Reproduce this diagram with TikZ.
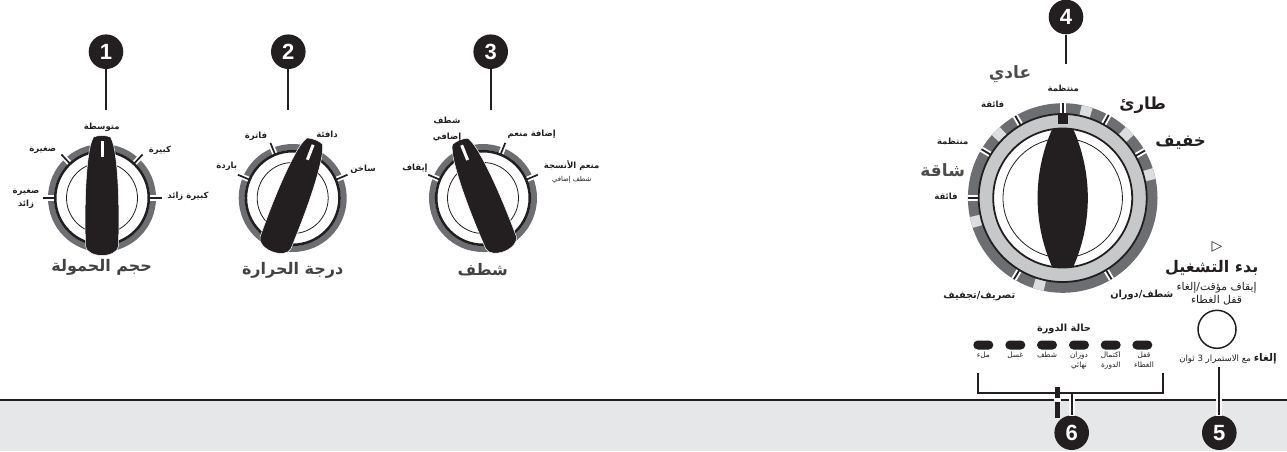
\documentclass[tikz,border=0pt]{standalone}
\usepackage{fontspec}
\setmainfont{Liberation Sans}
\newfontfamily\arabicfont[Script=Arabic]{DejaVu Sans}
\TeXXeTstate=1
\newcommand{\ar}[1]{\beginR #1\endR}
\definecolor{ringd}{HTML}{6D6E71}
\definecolor{ringl}{HTML}{C7C8CA}
\definecolor{segl}{HTML}{DCDDDE}
\definecolor{band}{HTML}{E6E7E8}
\definecolor{ink}{HTML}{231F20}
\usetikzlibrary{shapes.misc}
\tikzset{
  callout/.style={circle,fill=ink,text=white,inner sep=0pt,minimum size=34.6pt,font=\bfseries\fontsize{22}{22}\selectfont},
  lead/.style={draw=ink,line width=1.7pt},
  halo/.style={draw=white,line width=6pt},
  lab/.style={inner sep=0pt,align=center,text=ink,font=\arabicfont\bfseries\fontsize{8.5}{12.7}\selectfont},
  labw/.style={lab,font=\arabicfont\bfseries\fontsize{9.8}{12}\selectfont},
  tiny/.style={inner sep=0pt,align=center,text=ink,font=\arabicfont\fontsize{6.8}{10}\selectfont},
  led/.style={inner sep=0pt,align=center,text=ink,font=\arabicfont\fontsize{7.4}{10}\selectfont},
  note/.style={inner sep=0pt,align=center,text=ink,font=\arabicfont\fontsize{10.8}{13.4}\selectfont},
  title/.style={inner sep=0pt,text=ink!85,font=\arabicfont\bfseries\fontsize{16}{18}\selectfont},
  big/.style={inner sep=0pt,text=ink,font=\arabicfont\bfseries\fontsize{16.6}{18}\selectfont},
  bigg/.style={inner sep=0pt,text=ink!80,font=\arabicfont\bfseries\fontsize{17}{18}\selectfont},
  ledlamp/.style={rounded rectangle,fill=ink,inner sep=0pt,minimum width=20pt,minimum height=9pt},
}
% small dial: x, y, knob angle, tick angles
\newcommand{\smalldial}[4]{%
  \begin{scope}[shift={(#1,#2)}]
    \draw[ringd,line width=6pt] (0,0) circle[radius=51pt];
    \draw[ink,line width=2.6pt] (0,0) circle[radius=46.8pt];
    \draw[ink,line width=.8pt] (0,0) circle[radius=35.5pt];
    \foreach \a in {#4}{
      \begin{scope}[rotate=-\a]
        \fill[white] (-2.6,-48.2) rectangle (2.6,-54.6);
        \draw[ink,line width=1.7pt] (0,-47) -- (0,-59.5);
      \end{scope}}
    \begin{scope}[rotate=-#3]
      \fill[ink,draw=white,line width=.5pt] (-8.5,-61) .. controls (-11,-56) and (-12.5,-50) .. (-13.5,-42)
        .. controls (-16.5,-20) and (-17.5,10) .. (-16.5,48)
        .. controls (-16,54) and (-8,57.5) .. (0,57.5)
        .. controls (8,57.5) and (16,54) .. (16.5,48)
        .. controls (17.5,10) and (16.5,-20) .. (13.5,-42)
        .. controls (12.5,-50) and (11,-56) .. (8.5,-61)
        .. controls (4,-63) and (-4,-63) .. (-8.5,-61) -- cycle;
      \fill[white] (-1.5,-57) rectangle (1.5,-41);
    \end{scope}
  \end{scope}}
\begin{document}
\begin{tikzpicture}[x=1pt,y=-1pt]
\useasboundingbox (0,0) rectangle (1287,451);
% bottom band
\fill[band] (0,400) rectangle (1287,451);
\draw[ink,line width=2pt] (0,400) -- (1287,400);

% dials
\smalldial{102}{198}{0}{0,-43,43,-90,90}
\smalldial{292.7}{198}{21}{-67,-22,22,67}
\smalldial{483}{198}{-22}{-67,-22,22,67}

% big dial
\begin{scope}[shift={(1062.7,198)}]
  \draw[ringd,line width=11pt] (0,0) circle[radius=89.3pt];
  \foreach \a in {15,45,75,-45,-105,-165}{
    \pgfmathsetmacro{\ss}{90-\a+3.5}\pgfmathsetmacro{\ee}{90-\a-3.5}
    \draw[segl,line width=11pt] (\ss:89.3pt) arc[start angle=\ss,end angle=\ee,radius=89.3pt];}
  \foreach \a in {0,29,60,-30,-59,-90,-149,149}{
    \begin{scope}[rotate=-\a]
      \fill[white] (-2.8,-84) rectangle (2.8,-94.8);
      \draw[ink,line width=1.8pt] (0,-84) -- (0,-94.8);
    \end{scope}}
  \draw[ringl,line width=14pt] (0,0) circle[radius=76.5pt];
  \draw[ink,line width=1.8pt] (0,0) circle[radius=84pt];
  \draw[ink,line width=1.8pt] (0,0) circle[radius=69.5pt];
  \draw[ink,line width=.8pt] (0,0) circle[radius=59.7pt];
  \fill[ink] (-5,-85) rectangle (5,-74);
  \fill[ink] (-10.5,-69) .. controls (-30,-25) and (-30,25) .. (-10.5,69) -- (10.5,69)
     .. controls (30,25) and (30,-25) .. (10.5,-69) -- cycle;
\end{scope}

% callouts
\node[callout] (n1) at (106,51.7) {1};
\node[callout] (n2) at (288.3,51.7) {2};
\node[callout] (n3) at (490.7,51.7) {3};
\node[callout] (n4) at (1066,17) {4};
\node[callout] (n5) at (1219.3,432.7) {5};
\node[callout] (n6) at (1071.7,432.7) {6};
\coordinate (e1) at (106,110);
\coordinate (e2) at (288.3,110);
\coordinate (e3) at (490.7,110);
\coordinate (e4) at (1066,64);
\coordinate (e5) at (1219.3,367);
\coordinate (e6) at (1071.7,392.7);
\draw[lead] (n1) -- (e1);
\draw[lead] (n2) -- (e2);
\draw[lead] (n3) -- (e3);
\draw[lead] (n4) -- (e4);
\draw[halo] (1219.3,396) -- (1219.3,416);
\draw[halo] (1071.7,396) -- (1071.7,416);
\draw[lead] (n5) -- (e5);
\draw[lead] (n6) -- (e6);
% bracket
\coordinate (bl) at (978,373);
\coordinate (br) at (1162.7,373);
\draw[lead] (bl) |- (e6) -| (br);
\fill[white] (1054,396.5) rectangle (1060.5,402);
\fill[ink] (1054.7,386.7) rectangle (1059.9,398);
\fill[ink] (1054.7,402) rectangle (1059.9,418);

% labels dial 1
\node[lab] (a1) at (101.7,127.7) {\ar{متوسطة}};
\node[lab] (a2) at (42.7,150) {\ar{صغيرة}};
\node[lab] (a3) at (160,150) {\ar{كبيرة}};
\node[lab] (a4) at (26,198.5) {\ar{صغيرة}\\\ar{زائد}};
\node[lab] (a5) at (188,196.7) {\ar{كبيرة زائد}};
\node[title] (a6) at (101.7,267) {\ar{حجم الحمولة}};
% labels dial 2
\node[lab] (b1) at (327,134) {\ar{دافئة}};
\node[lab] (b2) at (256,136) {\ar{فاترة}};
\node[lab] (b3) at (226.7,166.7) {\ar{باردة}};
\node[lab] (b4) at (363,169) {\ar{ساخن}};
\node[title] (b5) at (292.7,270) {\ar{درجة الحرارة}};
% labels dial 3
\node[lab,font=\arabicfont\bfseries\fontsize{8.5}{16.5}\selectfont] (c1) at (447,129.5) {\ar{شطف}\\\ar{إضافي}};
\node[lab] (c2) at (531.7,134) {\ar{إضافة منعم}};
\node[lab] (c3) at (415,168) {\ar{إيقاف}};
\node[lab] (c4) at (571.7,165.7) {\ar{منعم الأنسجة}};
\node[tiny] (c5) at (571.7,180) {\ar{شطف إضافي}};
\node[title] (c6) at (482.7,270) {\ar{شطف}};
% labels dial 4
\node[bigg] (d1) at (1010,74) {\ar{عادي}};
\node[lab] (d2) at (1063.3,88.3) {\ar{منتظمة}};
\node[lab] (d3) at (992.7,104) {\ar{فائقة}};
\node[big] (d4) at (1142.7,105) {\ar{طارئ}};
\node[big] (d5) at (1180.7,142.7) {\ar{خفيف}};
\node[lab] (d6) at (952.7,141.7) {\ar{منتظمة}};
\node[bigg] (d7) at (942.7,170) {\ar{شاقة}};
\node[lab] (d8) at (946,196.7) {\ar{فائقة}};
\node[labw] (d9) at (979.3,296) {\ar{تصريف/تجفيف}};
\node[labw] (d10) at (1141.7,295) {\ar{شطف/دوران}};
% start
\node[inner sep=0pt,font=\arabicfont\fontsize{14}{14}\selectfont,text=ink] (s0) at (1217,247) {▷};
\node[title,text=ink] (s1) at (1211.7,268.3) {\ar{بدء التشغيل}};
\node[note] (s2) at (1216.5,294) {\ar{إيقاف مؤقت/إلغاء}\\\ar{قفل الغطاء}};
\node[circle,draw=ink,line width=1.5pt,inner sep=0pt,minimum size=38pt] (btn) at (1217,329.3) {};
\node[led,font=\arabicfont\fontsize{8.6}{10}\selectfont] (s3) at (1228,359) {\ar{{\bfseries\fontsize{10.6}{10}\selectfont إلغاء} مع الاستمرار 3 ثوان}};
% cycle status
\node[labw] (t0) at (1064,329.3) {\ar{حالة الدورة}};
\foreach \n/\x in {1/983.3,2/1015.3,3/1047,4/1079,5/1110.7,6/1142.3}{
  \node[ledlamp] (l\n) at (\x,345) {};}
\node[led,anchor=north] (t1) at (983.3,352) {\ar{ملء}};
\node[led,anchor=north] (t2) at (1015.3,352) {\ar{غسل}};
\node[led,anchor=north] (t3) at (1047,352) {\ar{شطف}};
\node[led,anchor=north] (t4) at (1079,352) {\ar{دوران}\\\ar{نهائي}};
\node[led,anchor=north] (t5) at (1110.7,352) {\ar{اكتمال}\\\ar{الدورة}};
\node[led,anchor=north] (t6) at (1144,352) {\ar{قفل}\\\ar{الغطاء}};
\end{tikzpicture}
\end{document}
